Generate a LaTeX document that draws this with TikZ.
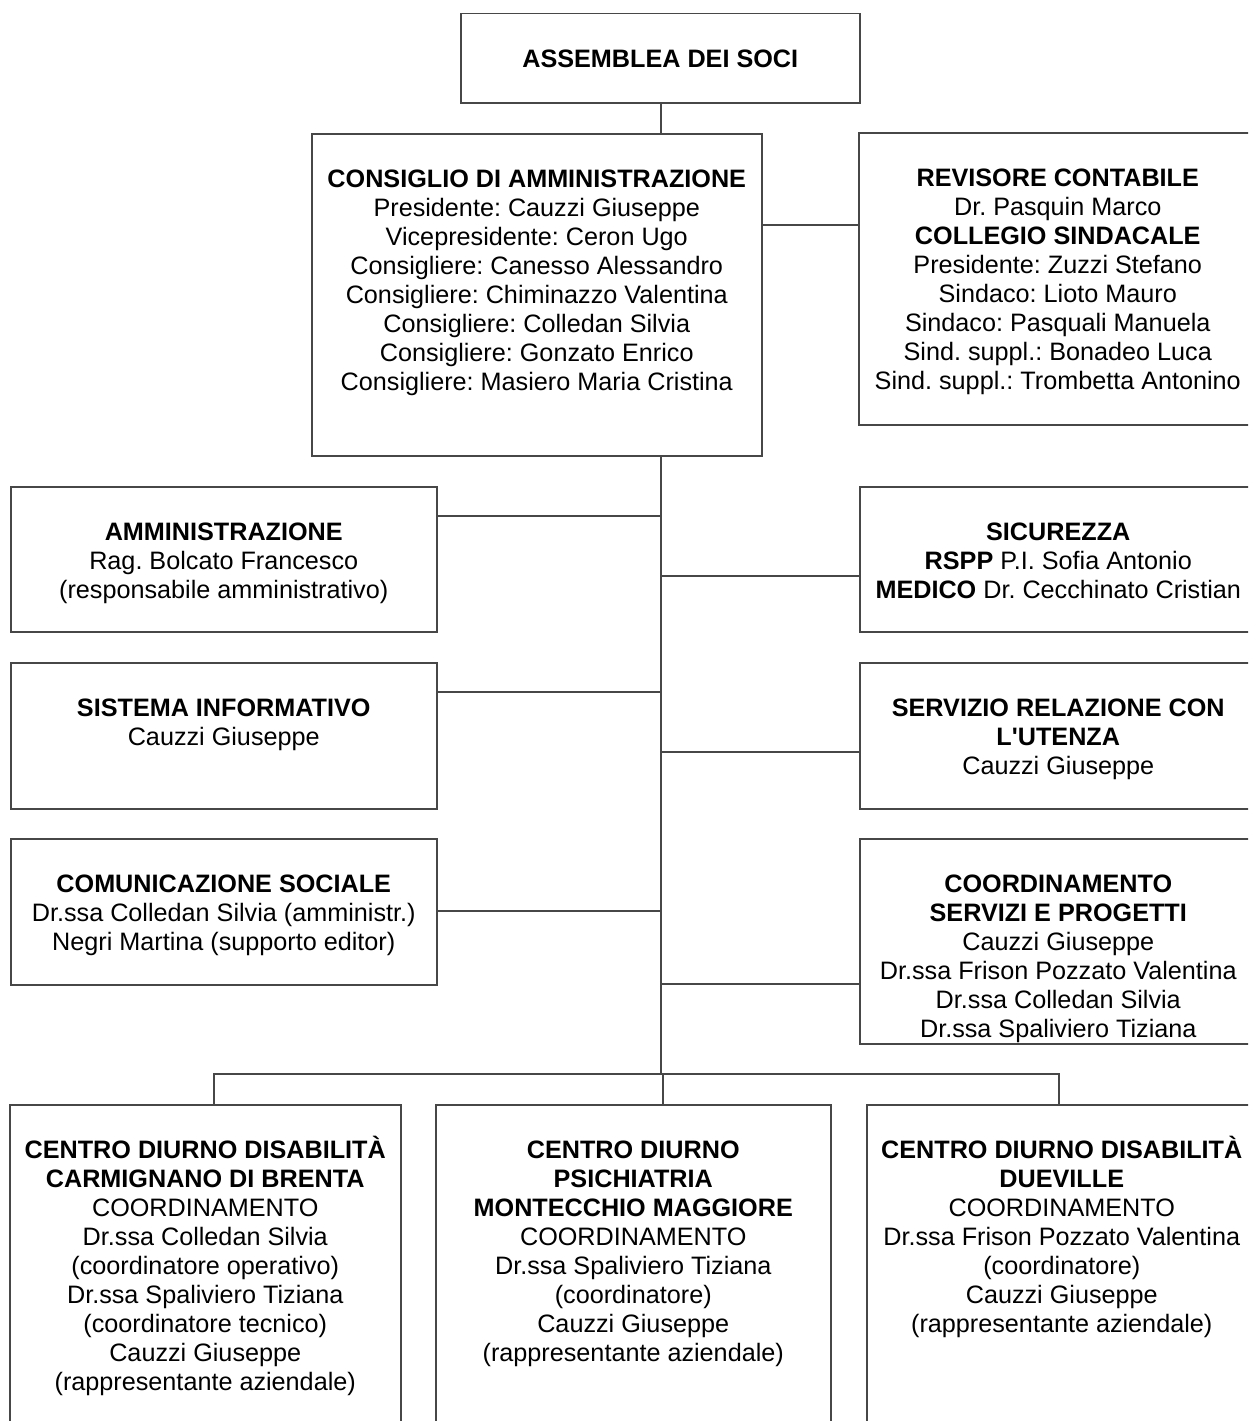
\documentclass[tikz,border=0pt]{standalone}
\usepackage{fontspec}
\setmainfont{Liberation Sans}
\newcommand{\topstrut}{\rule{0pt}{1em}}
\begin{document}
\frenchspacing
\begin{tikzpicture}[x=1pt,y=-1pt,
  box/.style={draw=black!72, line width=1.5pt, rectangle, inner sep=0pt, anchor=north west},
  txt/.style={inner sep=0pt, anchor=north, align=center, font={\fontsize{25.2}{29}\selectfont\frenchspacing}},
  conn/.style={draw=black!72, line width=1.5pt}]
\useasboundingbox (0,0) rectangle (1248,1421);
\clip (0,0) rectangle (1248,1421);
\fill[white] (0,0) rectangle (1248,1421);

% boxes
\node[box, minimum width=399pt, minimum height=89pt]  (asm) at (460,13) {};
\node[box, minimum width=450pt, minimum height=322pt] (cda) at (311,133) {};
\node[box, minimum width=398pt, minimum height=292pt] (rev) at (858,132) {};
\node[box, minimum width=426pt, minimum height=145pt] (amm) at (10,486) {};
\node[box, minimum width=397pt, minimum height=145pt] (sic) at (859,486) {};
\node[box, minimum width=426pt, minimum height=146pt] (sis) at (10,662) {};
\node[box, minimum width=397pt, minimum height=146pt] (srv) at (859,662) {};
\node[box, minimum width=426pt, minimum height=146pt] (com) at (10,838) {};
\node[box, minimum width=397pt, minimum height=205pt] (coo) at (859,838) {};
\node[box, minimum width=391pt, minimum height=340pt] (cd1) at (9,1104) {};
\node[box, minimum width=395pt, minimum height=340pt] (cd2) at (435,1104) {};
\node[box, minimum width=390pt, minimum height=340pt] (cd3) at (866,1104) {};

% texts
\node[txt] (asm-t) at ([yshift=-29pt]asm.north) {\topstrut\textbf{ASSEMBLEA DEI SOCI}};
\node[txt] (cda-t) at ([yshift=-29pt]cda.north) {\topstrut\textbf{CONSIGLIO DI AMMINISTRAZIONE}\\Presidente: Cauzzi Giuseppe\\Vicepresidente: Ceron Ugo\\Consigliere: Canesso Alessandro\\Consigliere: Chiminazzo Valentina\\Consigliere: Colledan Silvia\\Consigliere: Gonzato Enrico\\Consigliere: Masiero Maria Cristina};
\node[txt] (rev-t) at ([yshift=-29pt]rev.north) {\topstrut\textbf{REVISORE CONTABILE}\\Dr. Pasquin Marco\\\textbf{COLLEGIO SINDACALE}\\Presidente: Zuzzi Stefano\\Sindaco: Lioto Mauro\\Sindaco: Pasquali Manuela\\Sind. suppl.: Bonadeo Luca\\Sind. suppl.: Trombetta Antonino};
\node[txt] (amm-t) at ([yshift=-29pt]amm.north) {\topstrut\textbf{AMMINISTRAZIONE}\\Rag. Bolcato Francesco\\(responsabile amministrativo)};
\node[txt] (sic-t) at ([yshift=-29pt]sic.north) {\topstrut\textbf{SICUREZZA}\\\textbf{RSPP} P.I. Sofia Antonio\\\textbf{MEDICO} Dr. Cecchinato Cristian};
\node[txt] (sis-t) at ([yshift=-29pt]sis.north) {\topstrut\textbf{SISTEMA INFORMATIVO}\\Cauzzi Giuseppe};
\node[txt] (srv-t) at ([yshift=-29pt]srv.north) {\topstrut\textbf{SERVIZIO RELAZIONE CON}\\\textbf{L\textquotesingle UTENZA}\\Cauzzi Giuseppe};
\node[txt] (com-t) at ([yshift=-29pt]com.north) {\topstrut\textbf{COMUNICAZIONE SOCIALE}\\Dr.ssa Colledan Silvia (amministr.)\\Negri Martina (supporto editor)};
\node[txt] (coo-t) at ([yshift=-29pt]coo.north) {\topstrut\textbf{COORDINAMENTO}\\\textbf{SERVIZI E PROGETTI}\\Cauzzi Giuseppe\\Dr.ssa Frison Pozzato Valentina\\Dr.ssa Colledan Silvia\\Dr.ssa Spaliviero Tiziana};
\node[txt] (cd1-t) at ([yshift=-29pt]cd1.north) {\topstrut\textbf{CENTRO DIURNO DISABILITÀ}\\\textbf{CARMIGNANO DI BRENTA}\\COORDINAMENTO\\Dr.ssa Colledan Silvia\\(coordinatore operativo)\\Dr.ssa Spaliviero Tiziana\\(coordinatore tecnico)\\Cauzzi Giuseppe\\(rappresentante aziendale)};
\node[txt] (cd2-t) at ([yshift=-29pt]cd2.north) {\topstrut\textbf{CENTRO DIURNO}\\\textbf{PSICHIATRIA}\\\textbf{MONTECCHIO MAGGIORE}\\COORDINAMENTO\\Dr.ssa Spaliviero Tiziana\\(coordinatore)\\Cauzzi Giuseppe\\(rappresentante aziendale)};
\node[txt] (cd3-t) at ([yshift=-29pt]cd3.north) {\topstrut\textbf{CENTRO DIURNO DISABILITÀ}\\\textbf{DUEVILLE}\\COORDINAMENTO\\Dr.ssa Frison Pozzato Valentina\\(coordinatore)\\Cauzzi Giuseppe\\(rappresentante aziendale)};

% junction coordinates
\coordinate (sp) at (661,0);
\coordinate (jrev) at (810,225);
\coordinate (jamm) at (661,516);
\coordinate (jsic) at (661,576);
\coordinate (jsis) at (661,692);
\coordinate (jsrv) at (661,752);
\coordinate (jcom) at (661,911);
\coordinate (jcoo) at (661,984);
\coordinate (bl) at (214,1074);
\coordinate (bm) at (663,1074);
\coordinate (br) at (1059,1074);

% connectors
\draw[conn] (asm.south -| sp) -- (cda.north -| sp);
\draw[conn] (cda.east |- jrev) -- (rev.west |- jrev);
\draw[conn] (cda.south -| sp) -- (sp |- bl);
\draw[conn] (amm.east |- jamm) -- (jamm);
\draw[conn] (jsic) -- (sic.west |- jsic);
\draw[conn] (sis.east |- jsis) -- (jsis);
\draw[conn] (jsrv) -- (srv.west |- jsrv);
\draw[conn] (com.east |- jcom) -- (jcom);
\draw[conn] (jcoo) -- (coo.west |- jcoo);
\draw[conn] (cd1.north -| bl) -- (bl) -- (br) -- (cd3.north -| br);
\draw[conn] (bm) -- (cd2.north -| bm);
\end{tikzpicture}
\end{document}
